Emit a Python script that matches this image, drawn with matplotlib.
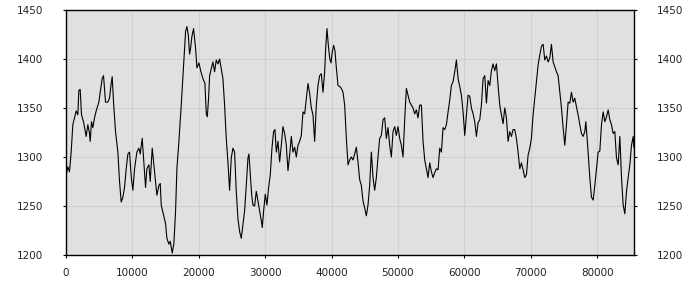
import matplotlib
matplotlib.use('Agg')
import matplotlib.pyplot as plt

# valores (x, nivel)
x_vals = [0, 276, 527, 778, 1030, 1281, 1532, 1783, 1934, 2135, 2336, 2637, 3039, 3290,
          3542, 3642, 3843, 4044, 4295, 4546, 4948, 5149, 5451, 5652, 5953, 6305, 6556,
          6807, 6958, 7159, 7460, 7812, 8063, 8314, 8566, 8817, 9068, 9319, 9570, 9822,
          10073, 10324, 10676, 10977, 11178, 11480, 11680, 11982, 12183, 12484, 12685,
          12987, 13338, 13690, 13992, 14192, 14343, 14695, 14996, 15197, 15499, 15700,
          16001, 16252, 16504, 16704, 17006, 17358, 17709, 18011, 18212, 18413, 18614,
          18764, 18965, 19216, 19518, 19719, 20020, 20322, 20623, 20925, 21126, 21276,
          21477, 21628,
          21877, 22129, 22380, 22631, 22882, 23133, 23385, 23636, 23887, 24138, 24389,
          24641, 24892, 25143, 25394, 25645, 25897, 26148, 26399, 26650, 26901, 27153,
          27404, 27555, 27755, 27956, 28157, 28409, 28660, 28911, 29162, 29413, 29564,
          29765, 30016, 30267, 30519, 30770, 31021, 31272, 31473, 31674, 31925, 32177,
          32428, 32679, 32930, 33181, 33433, 33684, 33935, 34186, 34437, 34689, 34940,
          35191, 35442, 35693, 35945, 36196, 36447, 36698, 36949, 37201, 37452, 37703,
          37954, 38205, 38457, 38708, 38959, 39110, 39311, 39512, 39713, 39914, 40115,
          40316, 40517, 40718, 40969, 41220, 41471, 41722, 41973, 42225, 42476, 42727,
          42975, 43227, 43478, 43729, 43980, 44231, 44483, 44734, 44985, 45236, 45487,
          45739, 45990, 46241, 46492, 46743, 46995, 47246, 47497, 47748, 47999, 48251,
          48502, 48753, 49004, 49255, 49507, 49758, 50009, 50260, 50511, 50763, 51014,
          51265, 51516, 51767, 52019, 52270, 52521, 52772, 53023, 53275, 53526, 53777,
          54028, 54279, 54531, 54782, 55033, 55284, 55535, 55787, 56038, 56289, 56540,
          56791, 57043, 57294, 57545, 57796, 58047, 58299, 58550, 58801, 59052, 59303,
          59555, 59806, 60057, 60308, 60559, 60811, 61062, 61313, 61564, 61815, 62067,
          62318, 62569, 62820, 63071, 63323, 63574, 63825,
          64073, 64325, 64576, 64827, 65078, 65329, 65581, 65832, 66083, 66334, 66585,
          66837, 67088, 67339, 67590, 67841, 68093, 68344, 68595, 68846, 69097, 69349,
          69600, 69851, 70102, 70353, 70605, 70856, 71107, 71358, 71609, 71861, 72112,
          72363, 72614, 72865, 73117, 73368, 73619, 73870, 74121, 74373, 74624, 74875,
          75126, 75377, 75629, 75880, 76131, 76382, 76633, 76885, 77136, 77387, 77638,
          77889, 78141, 78291, 78492, 78693, 78894, 79145, 79397, 79648, 79899, 80150,
          80401, 80653, 80904, 81155, 81406, 81657, 81909, 82160, 82411, 82662, 82913,
          83165, 83416, 83667, 83918, 84169, 84421, 84672, 84923, 85174, 85425, 85526]

y_vals = [1280, 1290, 1285, 1305, 1333, 1340, 1347, 1343, 1368, 1369, 1343, 1336, 1321, 1333,
          1324, 1316, 1336, 1330, 1340, 1347, 1356, 1366, 1380, 1383, 1356, 1356, 1360,
          1375, 1382, 1356, 1326, 1305, 1275, 1254, 1259, 1269, 1288, 1303, 1305, 1280,
          1266, 1288, 1305, 1309, 1303, 1319, 1299, 1269, 1288, 1292, 1275,
          1309, 1285, 1261, 1271, 1273, 1251, 1241, 1232, 1217, 1211, 1214,
          1202, 1212, 1245, 1288, 1316, 1353, 1394, 1428, 1433, 1425, 1405,
          1411, 1423, 1431, 1411, 1391, 1396, 1387, 1380, 1375, 1344, 1341,
          1360, 1383,
          1390, 1397, 1387, 1399, 1395, 1400, 1390, 1380, 1353, 1319, 1295,
          1266, 1299, 1309, 1305, 1265, 1237, 1224, 1217, 1231, 1245, 1271,
          1299, 1303, 1282, 1262, 1251, 1250, 1265, 1255, 1245, 1235, 1228,
          1245, 1262, 1251, 1269, 1282, 1309, 1326, 1328, 1305, 1316, 1295,
          1312, 1331, 1324, 1312, 1286, 1302, 1321, 1305, 1310, 1300, 1312,
          1316, 1322, 1346, 1344, 1360, 1375, 1365, 1350, 1343, 1316, 1353,
          1373, 1383, 1385, 1366, 1387, 1411, 1431, 1414, 1401, 1396, 1408,
          1414, 1408, 1391, 1373, 1372, 1370, 1366, 1353, 1319, 1292, 1297,
          1300, 1297, 1303, 1310, 1295, 1277, 1271, 1255, 1248, 1240, 1251,
          1271, 1305, 1279, 1266, 1279, 1300, 1319, 1322, 1338, 1340, 1319,
          1330, 1312, 1300, 1326, 1331, 1322, 1331, 1319, 1312, 1300, 1338,
          1370, 1363, 1356, 1353, 1350, 1344, 1348, 1340, 1353, 1353, 1316,
          1297, 1288, 1279, 1294, 1285, 1279, 1284, 1288, 1287, 1309, 1305,
          1330, 1328, 1333, 1346, 1358, 1373, 1377, 1387, 1399, 1380, 1372,
          1363, 1346, 1322, 1343, 1363, 1362, 1350, 1344, 1336, 1321, 1335,
          1338, 1353, 1380, 1383, 1355, 1378, 1373,
          1388, 1395, 1388, 1395, 1373, 1353, 1343, 1334, 1350, 1340, 1316,
          1326, 1321, 1328, 1328, 1319, 1305, 1288, 1294, 1287, 1279, 1282,
          1302, 1309, 1319, 1343, 1360, 1377, 1394, 1404, 1413, 1415, 1399,
          1403, 1397, 1401, 1415, 1397, 1392, 1387, 1383, 1366, 1350, 1330,
          1312, 1333, 1356, 1355, 1366, 1356, 1360, 1351, 1343, 1333, 1324,
          1321, 1326, 1336, 1319, 1299, 1279, 1259, 1256, 1271, 1288, 1305,
          1306, 1333, 1346, 1336, 1341, 1348, 1338, 1333, 1324, 1326, 1299,
          1292, 1321, 1279, 1251, 1242, 1265, 1279, 1292, 1312, 1321, 1310]

x_ticks = [0, 10000, 20000, 30000, 40000, 50000, 60000, 70000, 80000]
y_ticks = [1200, 1250, 1300, 1350, 1400, 1450]

fig = plt.figure(figsize=(7, 3), dpi=100)
ax = fig.add_axes([66/700, 45/300, 568/700, 245/300])
ax.set_facecolor('#e0e0e0')
ax.plot(x_vals, y_vals, color='black', linewidth=0.8)

ax.set_xlim(0, 85550)
ax.set_ylim(1200, 1450)
ax.set_xticks(x_ticks)
ax.set_yticks(y_ticks)
ax.grid(True, color='#d0d0d0', linewidth=0.8)
ax.set_axisbelow(True)

ax.tick_params(axis='both', direction='out', length=2.2, labelsize=7.5, labelcolor='#222222')
ax.tick_params(axis='y', right=True, labelright=True, pad=14)
ax.tick_params(axis='x', pad=7.5)
for s in ax.spines.values():
    s.set_color('black')
    s.set_linewidth(1)

fig.savefig('out.png', dpi=100)
